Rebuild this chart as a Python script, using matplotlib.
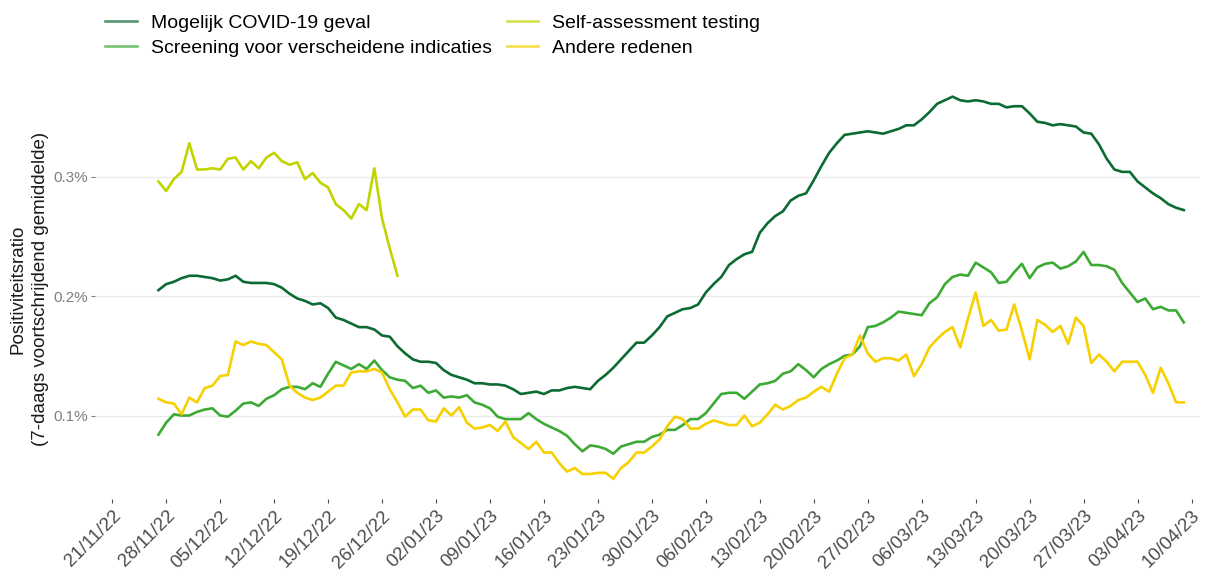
import matplotlib
matplotlib.use("Agg")
import matplotlib.pyplot as plt
import matplotlib.dates as mdates
from matplotlib.lines import Line2D
import pandas as pd

plt.rcParams["font.family"] = ["Liberation Sans", "DejaVu Sans"]

# daily 7-day average positivity ratio (%), 27/11/22 - 09/04/23
start = "2022-11-27"

mogelijk_covid = [
    0.205, 0.210, 0.212, 0.215, 0.217, 0.217, 0.216, 0.215, 0.213, 0.214,
    0.217, 0.212, 0.211, 0.211, 0.211, 0.210, 0.207, 0.202, 0.198, 0.196,
    0.193, 0.194, 0.190, 0.182, 0.180, 0.177, 0.174, 0.174, 0.172, 0.167,
    0.166, 0.158, 0.152, 0.147, 0.145, 0.145, 0.144, 0.138, 0.134, 0.132,
    0.130, 0.127, 0.127, 0.126, 0.126, 0.125, 0.122, 0.118, 0.119, 0.120,
    0.118, 0.121, 0.121, 0.123, 0.124, 0.123, 0.122, 0.129, 0.134, 0.140,
    0.147, 0.154, 0.161, 0.161, 0.167, 0.174, 0.183, 0.186, 0.189, 0.190,
    0.193, 0.203, 0.210, 0.216, 0.226, 0.231, 0.235, 0.237, 0.253, 0.261,
    0.267, 0.271, 0.280, 0.284, 0.286, 0.297, 0.309, 0.320, 0.328, 0.335,
    0.336, 0.337, 0.338, 0.337, 0.336, 0.338, 0.340, 0.343, 0.343, 0.348,
    0.354, 0.361, 0.364, 0.367, 0.364, 0.363, 0.364, 0.363, 0.361, 0.361,
    0.358, 0.359, 0.359, 0.353, 0.346, 0.345, 0.343, 0.344, 0.343, 0.342,
    0.337, 0.336, 0.327, 0.315, 0.306, 0.304, 0.304, 0.296, 0.291, 0.286,
    0.282, 0.277, 0.274, 0.272,
]

screening = [
    0.084, 0.094, 0.101, 0.100, 0.100, 0.103, 0.105, 0.106, 0.100, 0.099,
    0.104, 0.110, 0.111, 0.108, 0.114, 0.117, 0.122, 0.124, 0.124, 0.122,
    0.127, 0.124, 0.135, 0.145, 0.142, 0.139, 0.143, 0.139, 0.146, 0.138,
    0.132, 0.130, 0.129, 0.123, 0.125, 0.119, 0.121, 0.115, 0.116, 0.115,
    0.117, 0.111, 0.109, 0.106, 0.099, 0.097, 0.097, 0.097, 0.102, 0.097,
    0.093, 0.090, 0.087, 0.083, 0.076, 0.070, 0.075, 0.074, 0.072, 0.068,
    0.074, 0.076, 0.078, 0.078, 0.082, 0.084, 0.088, 0.088, 0.092, 0.097,
    0.097, 0.102, 0.110, 0.118, 0.119, 0.119, 0.114, 0.120, 0.126, 0.127,
    0.129, 0.135, 0.137, 0.143, 0.138, 0.132, 0.139, 0.143, 0.146, 0.150,
    0.151, 0.158, 0.174, 0.175, 0.178, 0.182, 0.187, 0.186, 0.185, 0.184,
    0.194, 0.199, 0.210, 0.216, 0.218, 0.217, 0.228, 0.224, 0.220, 0.211,
    0.212, 0.220, 0.227, 0.215, 0.224, 0.227, 0.228, 0.223, 0.225, 0.229,
    0.237, 0.226, 0.226, 0.225, 0.222, 0.211, 0.203, 0.195, 0.198, 0.189,
    0.191, 0.188, 0.188, 0.178,
]

self_assessment = [
    0.296, 0.288, 0.298, 0.304, 0.328, 0.306, 0.306, 0.307, 0.306, 0.315,
    0.316, 0.306, 0.313, 0.307, 0.316, 0.320, 0.313, 0.310, 0.312, 0.298,
    0.303, 0.295, 0.291, 0.277, 0.272, 0.265, 0.277, 0.272, 0.307, 0.265,
    0.240, 0.217,
]

andere_redenen = [
    0.114, 0.111, 0.110, 0.101, 0.115, 0.111, 0.123, 0.125, 0.133, 0.134,
    0.162, 0.159, 0.162, 0.160, 0.159, 0.153, 0.147, 0.125, 0.119, 0.115,
    0.113, 0.115, 0.120, 0.125, 0.125, 0.136, 0.137, 0.137, 0.139, 0.136,
    0.122, 0.111, 0.099, 0.105, 0.105, 0.096, 0.095, 0.106, 0.100, 0.107,
    0.094, 0.089, 0.090, 0.092, 0.087, 0.095, 0.082, 0.077, 0.072, 0.078,
    0.069, 0.069, 0.060, 0.053, 0.056, 0.051, 0.051, 0.052, 0.052, 0.047,
    0.056, 0.061, 0.069, 0.069, 0.074, 0.080, 0.091, 0.099, 0.097, 0.089,
    0.089, 0.093, 0.096, 0.094, 0.092, 0.092, 0.100, 0.091, 0.094, 0.101,
    0.109, 0.105, 0.108, 0.113, 0.115, 0.120, 0.124, 0.120, 0.135, 0.148,
    0.151, 0.167, 0.152, 0.145, 0.148, 0.148, 0.146, 0.151, 0.133, 0.143,
    0.157, 0.164, 0.170, 0.174, 0.157, 0.181, 0.203, 0.175, 0.180, 0.171,
    0.172, 0.193, 0.171, 0.147, 0.180, 0.176, 0.170, 0.175, 0.160, 0.182,
    0.175, 0.144, 0.151, 0.145, 0.137, 0.145, 0.145, 0.145, 0.134, 0.119,
    0.140, 0.127, 0.111, 0.111,
]

labels = [
    "Mogelijk COVID-19 geval",
    "Screening voor verscheidene indicaties",
    "Self-assessment testing",
    "Andere redenen",
]
colors = ["#0b6b33", "#3daa35", "#c2d400", "#f7d000"]

series = [mogelijk_covid, screening, self_assessment, andere_redenen]

fig = plt.figure(figsize=(12.05, 5.79), dpi=100)
ax = fig.add_axes([0.079, 0.138, 0.917, 0.726])

for values, color in zip(series, colors):
    dates = pd.date_range(start, periods=len(values), freq="D")
    ax.plot(dates, values, color=color, lw=1.9, solid_joinstyle="round")

# axes styling (ggplot minimal look)
ax.set_xlim(pd.Timestamp("2022-11-18 19:00"), pd.Timestamp("2023-04-11 03:00"))
ax.set_ylim(0.030, 0.382)
ax.set_yticks([0.1, 0.2, 0.3])
ax.set_yticklabels(["0.1%", "0.2%", "0.3%"])
ticks = pd.date_range("2022-11-21", "2023-04-10", freq="7D")
ax.set_xticks(ticks)
ax.xaxis.set_major_formatter(mdates.DateFormatter("%d/%m/%y"))
for lab in ax.get_xticklabels():
    lab.set_rotation(45)
    lab.set_ha("right")
    lab.set_rotation_mode("anchor")

ax.grid(axis="y", color="#ebebeb", lw=1.0)
ax.grid(axis="x", visible=False)
ax.set_axisbelow(True)
for s in ax.spines.values():
    s.set_visible(False)
ax.tick_params(axis="x", colors="#4d4d4d", labelsize=13.5, length=3, width=0.8, pad=3)
ax.tick_params(axis="y", colors="#7f7f7f", labelsize=11, length=3, width=0.8, pad=2)

ax.set_ylabel("Positiviteitsratio\n(7-daags voortschrijdend gemiddelde)",
              fontsize=13.5, color="#1a1a1a", labelpad=3, linespacing=1.45)

handles = [Line2D([], [], color=c, lw=1.9, alpha=0.7) for c in colors]
fig.legend(handles, labels, loc="upper left", bbox_to_anchor=(0.073, 1.006),
           ncol=2, frameon=False, fontsize=14, handlelength=1.6,
           handletextpad=0.72, columnspacing=0.77, labelspacing=0.38)

fig.savefig("out.png", dpi=100)
